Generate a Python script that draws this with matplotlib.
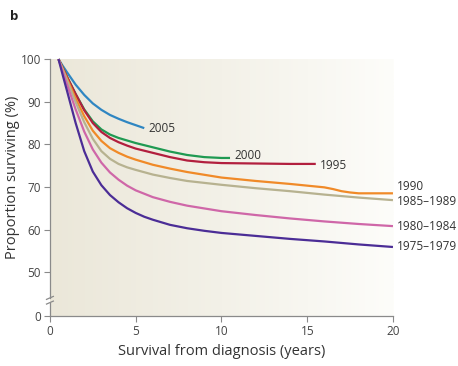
import numpy as np
import matplotlib.pyplot as plt
from matplotlib.colors import LinearSegmentedColormap

plt.rcParams['font.family'] = ['Open Sans', 'DejaVu Sans']

# survival curves by period of diagnosis (years, % surviving)
x_2005 = [0.5, 0.75, 1, 1.5, 2, 2.5, 3, 3.5, 4, 4.5, 5, 5.5]
y_2005 = [100, 98.4, 96.9, 94.0, 91.6, 89.6, 88.1, 86.9, 86.0, 85.2, 84.5, 83.8]

x_2000 = [0.5, 0.75, 1, 1.5, 2, 2.5, 3, 3.5, 4, 4.5, 5, 6, 7, 8, 9, 10, 10.5]
y_2000 = [100, 97.9, 95.8, 91.8, 88.2, 85.4, 83.5, 82.3, 81.5, 80.9, 80.3, 79.3, 78.3, 77.5, 77.0, 76.8, 76.8]

x_1995 = [0.5, 0.75, 1, 1.5, 2, 2.5, 3, 3.5, 4, 4.5, 5, 6, 7, 8, 9, 10, 12, 14, 15.5]
y_1995 = [100, 97.9, 95.8, 91.8, 88.0, 85.0, 82.9, 81.5, 80.5, 79.7, 79.0, 78.0, 77.0, 76.2, 75.8, 75.6, 75.5, 75.4, 75.4]

x_1990 = [0.5, 0.75, 1, 1.5, 2, 2.5, 3, 3.5, 4, 4.5, 5, 6, 7, 8, 10, 12, 14, 15, 16, 16.5, 17, 17.5, 18, 20]
y_1990 = [100, 97.7, 95.4, 90.8, 86.6, 83.2, 80.8, 79.1, 78.0, 77.1, 76.4, 75.2, 74.3, 73.5, 72.2, 71.4, 70.7, 70.3, 69.9, 69.5, 69.0, 68.7, 68.5, 68.5]

x_1985 = [0.5, 0.75, 1, 1.5, 2, 2.5, 3, 3.5, 4, 4.5, 5, 6, 7, 8, 10, 12, 14, 16, 18, 20]
y_1985 = [100, 97.5, 95.0, 89.9, 85.2, 81.3, 78.4, 76.6, 75.4, 74.6, 74.0, 72.9, 72.1, 71.4, 70.5, 69.7, 69.0, 68.2, 67.5, 66.9]

x_1980 = [0.5, 0.75, 1, 1.5, 2, 2.5, 3, 3.5, 4, 4.5, 5, 6, 7, 8, 10, 12, 14, 16, 18, 20]
y_1980 = [100, 97.0, 94.0, 88.2, 83.0, 78.8, 75.7, 73.4, 71.7, 70.3, 69.2, 67.6, 66.5, 65.6, 64.3, 63.4, 62.6, 61.9, 61.3, 60.8]

x_1975 = [0.5, 0.75, 1, 1.5, 2, 2.5, 3, 3.5, 4, 4.5, 5, 5.5, 6, 7, 8, 9, 10, 12, 14, 16, 18, 20]
y_1975 = [100, 96.2, 92.5, 85.0, 78.4, 73.6, 70.4, 68.1, 66.4, 65.0, 63.9, 63.0, 62.3, 61.1, 60.3, 59.7, 59.2, 58.5, 57.8, 57.2, 56.5, 55.9]

labels = ['2005', '2000', '1995', '1990', '1985–1989', '1980–1984', '1975–1979']
colors = ['#2f86c2', '#1f9a52', '#b21f3e', '#f08a28', '#b7b290', '#cf67a8', '#4b2d96']
series = [(x_2005, y_2005), (x_2000, y_2000), (x_1995, y_1995), (x_1990, y_1990),
          (x_1985, y_1985), (x_1980, y_1980), (x_1975, y_1975)]
# where the period label sits relative to the end of its line (points)
label_offsets = [(3, 0), (3, 1.5), (3, -1), (3, 5), (3, -1), (3, 0), (3, 0)]

y_zero = 39.7   # axis position standing in for 0 below the break
y_top = 101

fig = plt.figure(figsize=(4.58, 3.66), dpi=100)
ax = fig.add_axes([0.109, 0.1366, 0.749, (y_top - y_zero) * 4.26 / 366])
ax.set_xlim(0, 20)
ax.set_ylim(y_zero, y_top)

# beige-to-white background panel
cmap = LinearSegmentedColormap.from_list('panel', ['#ebe7d9', '#f3f1e8', '#fdfdfa'])
grad = np.linspace(0, 1, 256).reshape(1, -1)
ax.imshow(grad, extent=[0, 20, y_zero, 100], aspect='auto', cmap=cmap, zorder=0)

for (xs, ys), c, lab, off in zip(series, colors, labels, label_offsets):
    ax.plot(xs, ys, color=c, lw=1.6, solid_capstyle='butt', solid_joinstyle='round', zorder=3)
    ax.annotate(lab, (xs[-1], ys[-1]), xytext=off, textcoords='offset points',
                ha='left', va='center', fontsize=8.5, color='#333333',
                annotation_clip=False)

# axes styling
for s in ['top', 'right', 'left']:
    ax.spines[s].set_visible(False)
ax.spines['bottom'].set_color('#8a8a8a')
ax.spines['bottom'].set_linewidth(0.9)
ax.set_xticks([0, 5, 10, 15, 20])
ax.set_yticks([y_zero, 50, 60, 70, 80, 90, 100])
ax.set_yticklabels(['0', '50', '60', '70', '80', '90', '100'])
ax.tick_params(direction='out', length=4.5, width=0.8, color='#8a8a8a',
               labelsize=8.5, labelcolor='#444444', pad=2)

# y axis line with a break between 0 and 50
spine_kw = dict(color='#8a8a8a', lw=0.9, clip_on=False, zorder=4)
ax.plot([0, 0], [y_zero, 42.7], **spine_kw)
ax.plot([0, 0], [43.9, 100], **spine_kw)
ax.plot([-0.2, 0.2], [42.5, 43.2], **spine_kw)
ax.plot([-0.2, 0.2], [43.6, 44.3], **spine_kw)

ax.set_xlabel('Survival from diagnosis (years)', fontsize=10.5, color='#333333', labelpad=4)
ax.set_ylabel('Proportion surviving (%)', fontsize=10.5, color='#333333')
ax.yaxis.set_label_coords(-0.087, 0.53)

fig.text(0.022, 0.955, 'b', fontsize=9.5, fontweight='bold', color='#222222', va='center')

fig.savefig('out.png', dpi=100)
